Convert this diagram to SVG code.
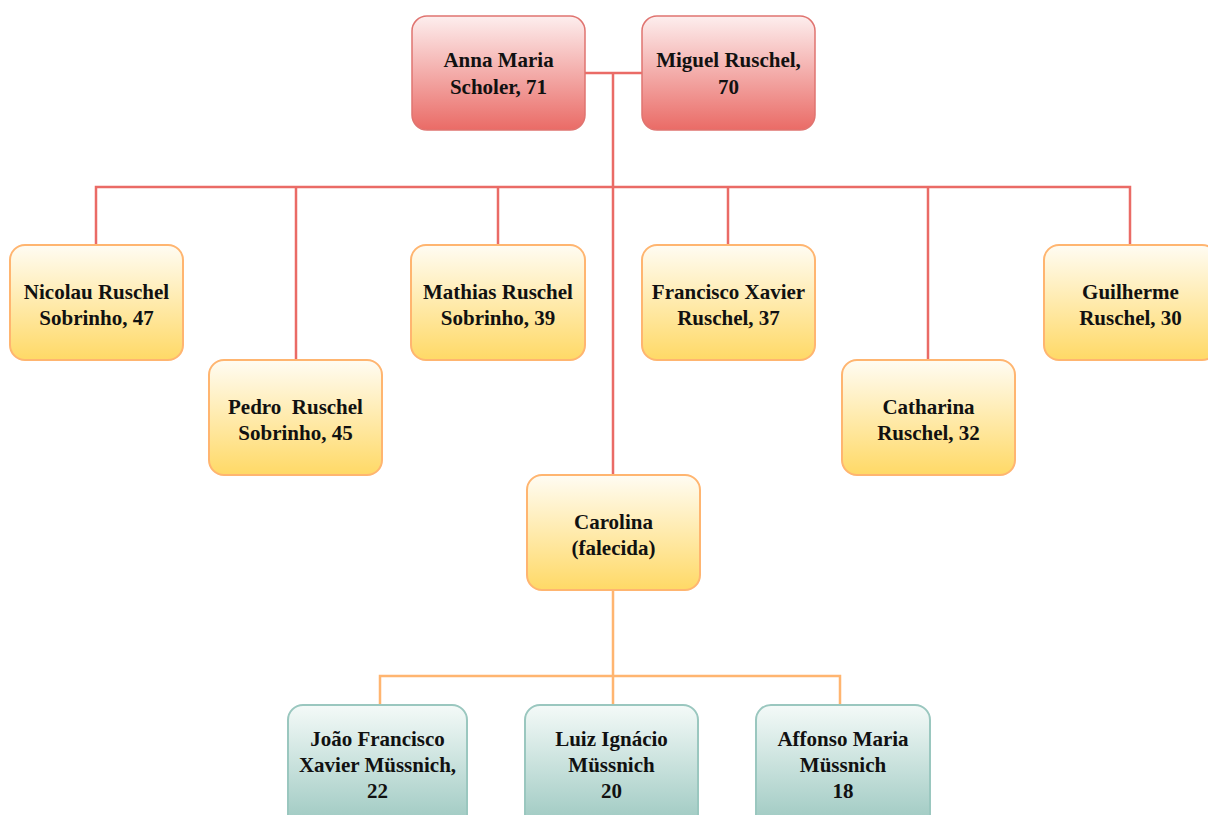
<svg xmlns="http://www.w3.org/2000/svg" width="1208" height="815" viewBox="0 0 1208 815">
<defs>
<linearGradient id="gRed" x1="0" y1="0" x2="0" y2="1"><stop offset="0" stop-color="#fdeeee"/><stop offset="1" stop-color="#ea6b66"/></linearGradient>
<linearGradient id="gYel" x1="0" y1="0" x2="0" y2="1"><stop offset="0" stop-color="#fffcf3"/><stop offset="1" stop-color="#ffd966"/></linearGradient>
<linearGradient id="gTeal" x1="0" y1="0" x2="0" y2="1"><stop offset="0" stop-color="#f4faf8"/><stop offset="1" stop-color="#9ac7bf"/></linearGradient>
</defs>
<style>
.red{fill:url(#gRed);stroke:#e07470;stroke-width:1.5}
.yel{fill:url(#gYel);stroke:#ffb570;stroke-width:2}
.teal{fill:url(#gTeal);stroke:#9ac7bf;stroke-width:2}
text{font-family:"Liberation Serif","Times New Roman",serif;font-weight:bold;font-size:21px;fill:#111;text-anchor:middle}
.cr{fill:none;stroke:#ea6b66;stroke-width:2.5}
.co{fill:none;stroke:#ffb570;stroke-width:2.5}
</style>
<rect width="1208" height="815" fill="#ffffff"/>
<g id="connectors">
<path class="cr" d="M585,73H642M613,73V475M96,245V187H1130V245M296,360V187M498,245V187M728,245V187M928,360V187"/>
<path class="co" d="M613,590V705M380,705V676H840V705"/>
</g>
<g id="anna"><rect class="red" x="412" y="16" width="173" height="114" rx="15"/><text x="498.5" y="67">Anna Maria</text><text x="498.5" y="94">Scholer, 71</text></g>
<g id="miguel"><rect class="red" x="642" y="16" width="173" height="114" rx="15"/><text x="728.5" y="67">Miguel Ruschel,</text><text x="728.5" y="94">70</text></g>
<g id="nicolau"><rect class="yel" x="10" y="245" width="173" height="115" rx="15"/><text x="96.5" y="299">Nicolau Ruschel</text><text x="96.5" y="325">Sobrinho, 47</text></g>
<g id="mathias"><rect class="yel" x="411" y="245" width="174" height="115" rx="15"/><text x="498" y="299">Mathias Ruschel</text><text x="498" y="325">Sobrinho, 39</text></g>
<g id="francisco"><rect class="yel" x="642" y="245" width="173" height="115" rx="15"/><text x="728.5" y="299">Francisco Xavier</text><text x="728.5" y="325">Ruschel, 37</text></g>
<g id="guilherme"><rect class="yel" x="1044" y="245" width="173" height="115" rx="15"/><text x="1130.5" y="299">Guilherme</text><text x="1130.5" y="325">Ruschel, 30</text></g>
<g id="pedro"><rect class="yel" x="209" y="360" width="173" height="115" rx="15"/><text x="295.5" y="414" xml:space="preserve">Pedro  Ruschel</text><text x="295.5" y="440">Sobrinho, 45</text></g>
<g id="catharina"><rect class="yel" x="842" y="360" width="173" height="115" rx="15"/><text x="928.5" y="414">Catharina</text><text x="928.5" y="440">Ruschel, 32</text></g>
<g id="carolina"><rect class="yel" x="527" y="475" width="173" height="115" rx="15"/><text x="613.5" y="529">Carolina</text><text x="613.5" y="555">(falecida)</text></g>
<g id="joao"><rect class="teal" x="288" y="705" width="179" height="125" rx="15"/><text x="377.5" y="746">João Francisco</text><text x="377.5" y="772">Xavier Müssnich,</text><text x="377.5" y="798">22</text></g>
<g id="luiz"><rect class="teal" x="525" y="705" width="173" height="125" rx="15"/><text x="611.5" y="746">Luiz Ignácio</text><text x="611.5" y="772">Müssnich</text><text x="611.5" y="798">20</text></g>
<g id="affonso"><rect class="teal" x="756" y="705" width="174" height="125" rx="15"/><text x="843" y="746">Affonso Maria</text><text x="843" y="772">Müssnich</text><text x="843" y="798">18</text></g>
</svg>
